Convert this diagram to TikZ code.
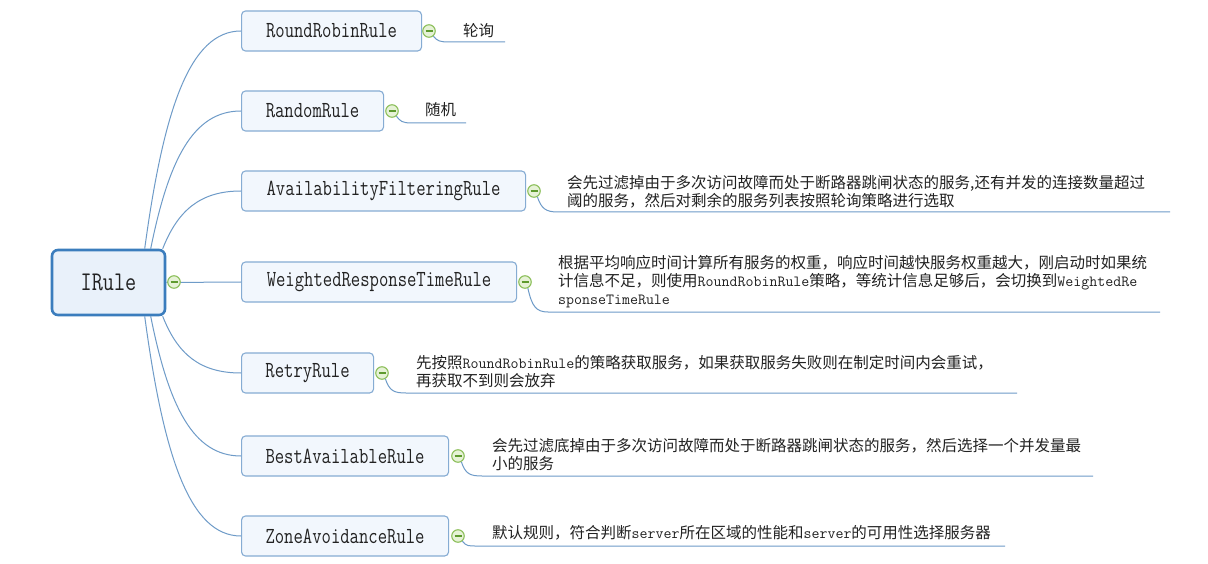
\documentclass[tikz,border=0pt]{standalone}
\usepackage{fontspec}
\setmainfont{Noto Sans CJK SC}
\newfontfamily\boxfont{Latin Modern Mono}[FakeStretch=0.79]
\newfontfamily\rootfont{Latin Modern Mono}[FakeStretch=0.8]
\newcommand\lat[1]{{\ttfamily #1}}
\definecolor{conncol}{HTML}{6E9BC8}
\definecolor{boxline}{HTML}{86ACD3}
\definecolor{boxfill}{HTML}{F2F7FD}
\definecolor{rootline}{HTML}{3B7DBD}
\definecolor{rootfill}{HTML}{E9F1FA}
\definecolor{circline}{HTML}{8CBF5A}
\definecolor{circfill}{HTML}{E6F2D6}
\definecolor{minuscol}{HTML}{5E9A2E}
\definecolor{txt}{HTML}{222222}
\tikzset{
  conn/.style={draw=conncol, line width=1pt},
  topic/.style={draw=boxline, fill=boxfill, line width=1.1pt, rounded corners=4pt,
    minimum height=40pt, anchor=west, inner sep=0pt, text=txt,
    font=\boxfont\fontsize{23}{26}\selectfont},
  rootbox/.style={draw=rootline, fill=rootfill, line width=2.6pt, rounded corners=6pt,
    minimum width=113pt, minimum height=65pt, inner sep=0pt, text=txt,
    font=\rootfont\fontsize{27}{30}\selectfont},
  fold/.style={circle, draw=circline, fill=circfill, line width=1.1pt, minimum size=12.5pt, inner sep=0pt,
    path picture={\draw[minuscol, line width=1.1pt]
      ([xshift=-3.5pt]path picture bounding box.center) -- ([xshift=3.5pt]path picture bounding box.center);}},
  desc/.style={anchor=west, align=left, inner sep=0pt, text=txt,
    font=\fontsize{15.5}{18}\selectfont},
}
\begin{document}
\begin{tikzpicture}[x=1pt, y=-1pt]
\useasboundingbox[fill=white] (0,0) rectangle (1208,564);

% root
\node[rootbox] (root) at (108.5,282.5) {IRule};

% topics
\node[topic, minimum width=180pt] (rr) at (241,31) {RoundRobinRule};
\node[topic, minimum width=142pt] (rd) at (241,111) {RandomRule};
\node[topic, minimum width=284pt] (av) at (241,191) {AvailabilityFilteringRule};
\node[topic, minimum width=275pt] (we) at (241,282) {WeightedResponseTimeRule};
\node[topic, minimum width=132pt] (re) at (241,373) {RetryRule};
\node[topic, minimum width=207pt] (be) at (241,456) {BestAvailableRule};
\node[topic, minimum width=207pt] (zo) at (241,536) {ZoneAvoidanceRule};

% connectors from root
\coordinate (t1) at ([xshift=94pt]root.north west);
\coordinate (t2) at ([xshift=100pt]root.north west);
\coordinate (t3) at ([xshift=112pt]root.north west);
\coordinate (b1) at ([xshift=94pt]root.south west);
\coordinate (b2) at ([xshift=100pt]root.south west);
\coordinate (b3) at ([xshift=112pt]root.south west);
\draw[conn] (t1) .. controls +(19,-140) and +(-51,0) .. (rr.west);
\draw[conn] (t2) .. controls +(18,-89) and +(-48,0) .. (rd.west);
\draw[conn] (t3) .. controls +(15,-38) and +(-41,0) .. (av.west);
\draw[conn] (root.east) -- (we.west);
\draw[conn] (b3) .. controls +(15,38) and +(-41,0) .. (re.west);
\draw[conn] (b2) .. controls +(18,90) and +(-48,0) .. (be.west);
\draw[conn] (b1) .. controls +(19,141) and +(-51,0) .. (zo.west);

% fold circles
\node[fold] (rc) at (174,282) {};
\node[fold] (c1) at (429,31) {};
\node[fold] (c2) at (392,111) {};
\node[fold] (c3) at (534,191) {};
\node[fold] (c4) at (525,282) {};
\node[fold] (c5) at (382,373) {};
\node[fold] (c6) at (458,456) {};
\node[fold] (c7) at (458,536) {};

% underline coordinates
\coordinate (s1) at (450,42);   \coordinate (e1) at (505,42);
\coordinate (s2) at (412,123);  \coordinate (e2) at (466,123);
\coordinate (s3) at (558,212);  \coordinate (e3) at (1170,212);
\coordinate (s4) at (548,312);  \coordinate (e4) at (1160,312);
\coordinate (s5) at (406,393);  \coordinate (e5) at (1017,393);
\coordinate (s6) at (482,476);  \coordinate (e6) at (1093,476);
\coordinate (s7) at (478,546);  \coordinate (e7) at (1005,546);

\draw[conn] (c1.-50) .. controls +(4,5) and +(-10,0) .. (s1) -- (e1);
\draw[conn] (c2.-50) .. controls +(4,5) and +(-10,0) .. (s2) -- (e2);
\draw[conn] (c3.-60) .. controls +(4,12) and +(-12,0) .. (s3) -- (e3);
\draw[conn] (c4.-65) .. controls +(4,18) and +(-12,0) .. (s4) -- (e4);
\draw[conn] (c5.-60) .. controls +(4,12) and +(-12,0) .. (s5) -- (e5);
\draw[conn] (c6.-60) .. controls +(4,12) and +(-12,0) .. (s6) -- (e6);
\draw[conn] (c7.-50) .. controls +(4,5) and +(-10,0) .. (s7) -- (e7);

% descriptions
\node[desc] (d1) at (463,31) {轮询};
\node[desc] (d2) at (425,110) {随机};
\node[desc] (d3) at (567,191.5) {会先过滤掉由于多次访问故障而处于断路器跳闸状态的服务,还有并发的连接数量超过\\阈的服务，然后对剩余的服务列表按照轮询策略进行选取};
\node[desc] (d4) at (558,282) {根据平均响应时间计算所有服务的权重，响应时间越快服务权重越大，刚启动时如果统\\计信息不足，则使用\lat{RoundRobinRule}策略，等统计信息足够后，会切换到\lat{WeightedRe}\\\lat{sponseTimeRule}};
\node[desc] (d5) at (416,372) {先按照\lat{RoundRobinRule}的策略获取服务，如果获取服务失败则在制定时间内会重试，\\再获取不到则会放弃};
\node[desc] (d6) at (492,455) {会先过滤底掉由于多次访问故障而处于断路器跳闸状态的服务，然后选择一个并发量最\\小的服务};
\node[desc] (d7) at (492,533) {默认规则，符合判断\lat{server}所在区域的性能和\lat{server}的可用性选择服务器};
\end{tikzpicture}
\end{document}
